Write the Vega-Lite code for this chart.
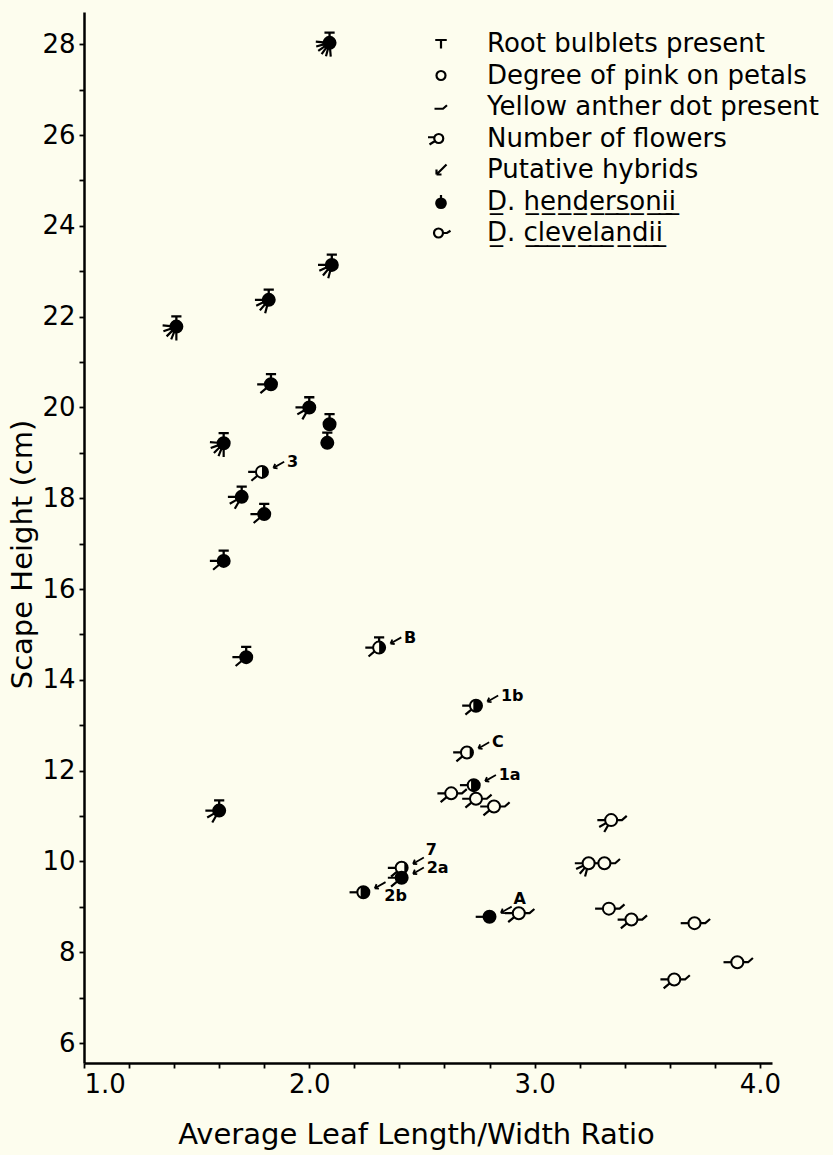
{
  "$schema": "https://vega.github.io/schema/vega-lite/v6.json",
  "width": 688,
  "height": 1051,
  "autosize": {"type": "none"},
  "padding": {"left": 84, "top": 12, "right": 61, "bottom": 92},
  "background": "#fdfdee",
  "config": {
    "view": {"stroke": null},
    "font": "DejaVu Sans",
    "axis": {
      "domainColor": "black", "domainWidth": 2.5, "tickColor": "black", "tickWidth": 1.8, "tickSize": 5,
      "labelColor": "black", "labelFont": "DejaVu Sans", "labelFontSize": 26, "labelOverlap": false,
      "titleColor": "black", "titleFont": "DejaVu Sans", "titleFontSize": 29, "titleFontWeight": "normal", "grid": false
    },
    "legend": {
      "orient": "none", "legendX": 344, "legendY": 19, "padding": 0,
      "labelFont": "DejaVu Sans", "labelFontSize": 26, "labelColor": "black", "labelLimit": 0, "labelOffset": 33,
      "symbolSize": 100, "symbolStrokeWidth": 2.2, "symbolStrokeColor": "black", "symbolOpacity": 1, "rowPadding": 5.5
    }
  },
  "data": {"values": [
    {"x": 2.09, "y": 28.03, "fill": "full", "bulb": true, "rays": 6, "tail": false, "label": ""},
    {"x": 2.10, "y": 23.14, "fill": "full", "bulb": true, "rays": 4, "tail": false, "label": ""},
    {"x": 1.82, "y": 22.37, "fill": "full", "bulb": true, "rays": 4, "tail": false, "label": ""},
    {"x": 1.41, "y": 21.78, "fill": "full", "bulb": true, "rays": 5, "tail": false, "label": ""},
    {"x": 1.83, "y": 20.51, "fill": "full", "bulb": true, "rays": 2, "tail": false, "label": ""},
    {"x": 2.00, "y": 20.00, "fill": "full", "bulb": true, "rays": 3, "tail": false, "label": ""},
    {"x": 2.09, "y": 19.63, "fill": "full", "bulb": true, "rays": 0, "tail": false, "label": ""},
    {"x": 2.08, "y": 19.22, "fill": "full", "bulb": true, "rays": 0, "tail": false, "label": ""},
    {"x": 1.62, "y": 19.21, "fill": "full", "bulb": true, "rays": 5, "tail": false, "label": ""},
    {"x": 1.70, "y": 18.03, "fill": "full", "bulb": true, "rays": 3, "tail": false, "label": ""},
    {"x": 1.80, "y": 17.65, "fill": "full", "bulb": true, "rays": 2, "tail": false, "label": ""},
    {"x": 1.62, "y": 16.62, "fill": "full", "bulb": true, "rays": 2, "tail": false, "label": ""},
    {"x": 1.72, "y": 14.50, "fill": "full", "bulb": true, "rays": 2, "tail": false, "label": ""},
    {"x": 1.60, "y": 11.12, "fill": "full", "bulb": true, "rays": 3, "tail": false, "label": ""},
    {"x": 1.79, "y": 18.58, "fill": "half", "bulb": false, "rays": 2, "tail": false, "label": "3"},
    {"x": 2.31, "y": 14.71, "fill": "half", "bulb": true, "rays": 2, "tail": false, "label": "B"},
    {"x": 2.74, "y": 13.43, "fill": "q3", "bulb": false, "rays": 2, "tail": false, "label": "1b"},
    {"x": 2.70, "y": 12.40, "fill": "q1", "bulb": false, "rays": 2, "tail": false, "label": "C"},
    {"x": 2.73, "y": 11.68, "fill": "q3", "bulb": false, "rays": 1, "tail": false, "label": "1a"},
    {"x": 2.41, "y": 9.86, "fill": "q1", "bulb": false, "rays": 2, "tail": false, "label": "7"},
    {"x": 2.41, "y": 9.64, "fill": "full", "bulb": false, "rays": 2, "tail": false, "label": "2a"},
    {"x": 2.24, "y": 9.32, "fill": "q3", "bulb": false, "rays": 1, "tail": false, "label": "2b"},
    {"x": 2.80, "y": 8.78, "fill": "full", "bulb": false, "rays": 1, "tail": false, "label": "A"},
    {"x": 2.63, "y": 11.50, "fill": "open", "bulb": false, "rays": 2, "tail": true, "label": ""},
    {"x": 2.74, "y": 11.38, "fill": "open", "bulb": false, "rays": 2, "tail": true, "label": ""},
    {"x": 2.82, "y": 11.21, "fill": "open", "bulb": false, "rays": 2, "tail": true, "label": ""},
    {"x": 3.34, "y": 10.91, "fill": "open", "bulb": false, "rays": 3, "tail": true, "label": ""},
    {"x": 3.24, "y": 9.96, "fill": "open", "bulb": false, "rays": 4, "tail": false, "label": ""},
    {"x": 3.31, "y": 9.96, "fill": "open", "bulb": false, "rays": 1, "tail": true, "label": ""},
    {"x": 3.33, "y": 8.96, "fill": "open", "bulb": false, "rays": 1, "tail": true, "label": ""},
    {"x": 3.43, "y": 8.72, "fill": "open", "bulb": false, "rays": 2, "tail": true, "label": ""},
    {"x": 3.71, "y": 8.64, "fill": "open", "bulb": false, "rays": 1, "tail": true, "label": ""},
    {"x": 3.90, "y": 7.78, "fill": "open", "bulb": false, "rays": 1, "tail": true, "label": ""},
    {"x": 3.62, "y": 7.40, "fill": "open", "bulb": false, "rays": 2, "tail": true, "label": ""},
    {"x": 2.93, "y": 8.86, "fill": "open", "bulb": false, "rays": 2, "tail": true, "label": ""}
  ]},
  "encoding": {
    "x": {"field": "x", "type": "quantitative",
      "scale": {"domain": [1, 4.054], "nice": false, "zero": false},
      "axis": {"values": [1,1.2,1.4,1.6,1.8,2,2.2,2.4,2.6,2.8,3,3.2,3.4,3.6,3.8,4],
        "labelExpr": "datum.value % 1 == 0 ? format(datum.value, '.1f') : ''",
        "labelFlush": true, "labelPadding": 3,
        "title": "Average Leaf Length/Width Ratio", "titleX": 332, "titleY": 80, "titleBaseline": "alphabetic"}},
    "y": {"field": "y", "type": "quantitative",
      "scale": {"domain": [5.56, 28.71], "nice": false, "zero": false},
      "axis": {"values": [6,7,8,9,10,11,12,13,14,15,16,17,18,19,20,21,22,23,24,25,26,27,28],
        "labelExpr": "datum.value % 2 == 0 ? datum.value : ''",
        "labelPadding": 4,
        "title": "Scape Height (cm)", "titlePadding": 4, "titleY": 542}}
  },
  "resolve": {"scale": {"shape": "independent", "fill": "independent", "stroke": "independent"}},
  "layer": [
    {
      "transform": [{"filter": "datum.rays > 0"}],
      "mark": {"type": "point", "filled": false, "color": "black", "strokeWidth": 2.2, "size": 144, "opacity": 1},
      "encoding": {"shape": {"field": "rays", "type": "nominal", "legend": null,
        "scale": {"domain": [1,2,3,4,5,6], "range": [
          "M-1,0 L-2.3,0",
          "M-1,0 L-2.3,0 M-0.766,0.643 L-1.762,1.479",
          "M-1,0 L-2.3,0 M-0.866,0.5 L-1.992,1.15 M-0.5,0.866 L-1.15,1.992",
          "M-1,0 L-2.3,0 M-0.906,0.423 L-2.084,0.972 M-0.643,0.766 L-1.478,1.762 M-0.259,0.966 L-0.595,2.222",
          "M-0.996,-0.087 L-2.291,-0.2 M-0.94,0.342 L-2.161,0.787 M-0.707,0.707 L-1.626,1.626 M-0.375,0.927 L-0.862,2.133 M0,1 L0,2.3",
          "M-0.996,-0.087 L-2.291,-0.2 M-0.966,0.259 L-2.222,0.595 M-0.819,0.574 L-1.884,1.319 M-0.574,0.819 L-1.319,1.884 M-0.259,0.966 L-0.595,2.222 M0.087,0.996 L0.2,2.291"
        ]}}}
    },
    {
      "transform": [{"filter": "datum.bulb"}],
      "mark": {"type": "point", "filled": false, "color": "black", "strokeWidth": 2.3, "size": 144, "opacity": 1,
        "shape": "M0,-1 L0,-1.7 M-0.85,-1.7 L0.85,-1.7"}
    },
    {
      "transform": [{"filter": "datum.tail"}],
      "mark": {"type": "point", "filled": false, "color": "black", "strokeWidth": 2.2, "size": 144, "opacity": 1,
        "shape": "M1,0 L1.8,0 L2.6,-0.7"}
    },
    {
      "mark": {"type": "point", "filled": true, "fill": "#fdfdee", "stroke": "black", "strokeWidth": 2, "size": 144, "opacity": 1, "shape": "circle"}
    },
    {
      "transform": [{"filter": "datum.fill != 'open'"}],
      "mark": {"type": "point", "filled": true, "color": "black", "strokeWidth": 0, "size": 144, "opacity": 1},
      "encoding": {"shape": {"field": "fill", "type": "nominal", "legend": null,
        "scale": {"domain": ["full", "half", "q3", "q1"], "range": [
          "M1,0 A1,1 0 1,1 -1,0 A1,1 0 1,1 1,0 Z",
          "M0,-1 A1,1 0 0,1 0,1 Z",
          "M-0.45,-0.893 A1,1 0 1,1 -0.45,0.893 Z",
          "M0.45,-0.893 A1,1 0 0,1 0.45,0.893 Z"
        ]}}}
    },
    {
      "transform": [{"filter": "datum.label != ''"}],
      "mark": {"type": "point", "filled": false, "color": "black", "strokeWidth": 1.8, "size": 144, "opacity": 1,
        "shape": "M3.7,-1.7 L1.9,-0.67 M1.9,-0.67 L2.6,-0.6 M1.9,-0.67 L2.2,-1.35"}
    },
    {
      "transform": [{"filter": "datum.label != '' && datum.label != '7' && datum.label != 'A' && datum.label != '2b'"}],
      "mark": {"type": "text", "align": "left", "baseline": "middle", "dx": 25, "dy": -10,
        "font": "DejaVu Sans", "fontSize": 16, "fontWeight": "bold", "color": "black"},
      "encoding": {"text": {"field": "label"}}
    },
    {
      "transform": [{"filter": "datum.label == '7' || datum.label == 'A'"}],
      "mark": {"type": "text", "align": "left", "baseline": "middle", "dx": 24, "dy": -18,
        "font": "DejaVu Sans", "fontSize": 16, "fontWeight": "bold", "color": "black"},
      "encoding": {"text": {"field": "label"}}
    },
    {
      "transform": [{"filter": "datum.label == '2b'"}],
      "mark": {"type": "text", "align": "left", "baseline": "middle", "dx": 21, "dy": 4,
        "font": "DejaVu Sans", "fontSize": 16, "fontWeight": "bold", "color": "black"},
      "encoding": {"text": {"field": "label"}}
    },
    {
      "data": {"values": [
        {"key": "Root bulblets present"},
        {"key": "Degree of pink on petals"},
        {"key": "Yellow anther dot present"},
        {"key": "Number of flowers"},
        {"key": "Putative hybrids"},
        {"key": "D̲. h̲e̲n̲d̲e̲r̲s̲o̲n̲i̲i̲"},
        {"key": "D̲. c̲l̲e̲v̲e̲l̲a̲n̲d̲i̲i̲"}
      ]},
      "mark": {"type": "point", "filled": true, "strokeWidth": 2.2, "opacity": 0},
      "encoding": {
        "shape": {"field": "key", "type": "nominal", "title": null,
          "scale": {"domain": ["Root bulblets present", "Degree of pink on petals", "Yellow anther dot present", "Number of flowers", "Putative hybrids", "D̲. h̲e̲n̲d̲e̲r̲s̲o̲n̲i̲i̲", "D̲. c̲l̲e̲v̲e̲l̲a̲n̲d̲i̲i̲"],
            "range": [
              "M-1.15,-0.8 L1.15,-0.8 M0,-0.8 L0,0.9",
              "M0.9,0 A0.9,0.9 0 1,1 -0.9,0 A0.9,0.9 0 1,1 0.9,0 Z",
              "M-1.3,0.35 L0.4,0.35 L1.2,-0.35",
              "M0.45,0 A0.9,0.9 0 1,1 -1.35,0 A0.9,0.9 0 1,1 0.45,0 Z M-1.35,-0.25 L-2.6,-0.25 M-1.2,0.5 L-2.3,1.2",
              "M1.1,-1.1 L-0.9,0.9 M-0.9,0.9 L-0.9,-0.1 M-0.9,0.9 L0.1,0.9",
              "M0.95,0.35 A0.95,0.95 0 1,1 -0.95,0.35 A0.95,0.95 0 1,1 0.95,0.35 Z M0,-0.6 L0,-1.3",
              "M0.4,0 A0.9,0.9 0 1,1 -1.4,0 A0.9,0.9 0 1,1 0.4,0 Z M0.4,0 L1.2,0 L1.9,-0.45"
            ]}},
        "fill": {"field": "key", "type": "nominal", "title": null,
          "scale": {"domain": ["Root bulblets present", "Degree of pink on petals", "Yellow anther dot present", "Number of flowers", "Putative hybrids", "D̲. h̲e̲n̲d̲e̲r̲s̲o̲n̲i̲i̲", "D̲. c̲l̲e̲v̲e̲l̲a̲n̲d̲i̲i̲"],
            "range": ["transparent", "transparent", "transparent", "transparent", "transparent", "black", "transparent"]}},
        "stroke": {"field": "key", "type": "nominal", "title": null,
          "scale": {"domain": ["Root bulblets present", "Degree of pink on petals", "Yellow anther dot present", "Number of flowers", "Putative hybrids", "D̲. h̲e̲n̲d̲e̲r̲s̲o̲n̲i̲i̲", "D̲. c̲l̲e̲v̲e̲l̲a̲n̲d̲i̲i̲"],
            "range": ["black", "black", "black", "black", "black", "black", "black"]}}
      }
    }
  ]
}
